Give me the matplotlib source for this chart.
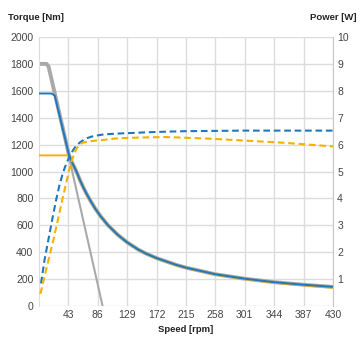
import matplotlib.pyplot as plt

# torque curves (speed rpm -> Nm)
grey_line_speed = [0, 11, 14, 93]
grey_line_torque = [1800, 1800, 1780, 0]

curve_speed = [44, 48, 52, 56, 60, 65, 70, 75, 82, 90, 101, 115, 129, 145,
               156, 172, 200, 215, 258, 301, 344, 387, 430]
curve_torque = [1120, 1070, 1030, 985, 935, 880, 830, 785, 726, 668, 600, 530,
                473, 420, 391, 356, 307, 285, 236, 203, 177, 158, 142]
orange_torque = [1120, 1070, 1030, 985, 935, 880, 830, 785, 726, 668, 600, 530,
                 473, 419, 390, 354, 305, 283, 233, 200, 173, 154, 136]

grey_start_speed = [0, 11, 14]
grey_start_torque = [1800, 1800, 1780]
blue_start_speed = [0, 18, 23]
blue_start_torque = [1580, 1580, 1565]
orange_start_speed = [0, 43]
orange_start_torque = [1120, 1120]

# power curves (speed rpm -> W)
blue_p_speed = [3, 8, 14, 20, 25, 30, 35, 40, 45, 50, 55, 62, 69, 80, 95, 115, 134,
                160, 186, 215, 260, 300, 350, 430]
blue_p_watt = [0.84, 1.7, 2.5, 3.3, 3.94, 4.5, 4.95, 5.3, 5.58, 5.8, 5.98, 6.12, 6.23,
               6.32, 6.38, 6.41, 6.43, 6.46, 6.48, 6.5, 6.51, 6.52, 6.52, 6.52]
orange_p_speed = [2, 10, 21, 28, 34, 40, 44, 48, 52, 55, 59, 65, 75, 93, 109, 130,
                  160, 186, 209, 250, 300, 357, 400, 430]
orange_p_watt = [0.45, 1.3, 2.45, 3.25, 3.94, 4.6, 5.05, 5.4, 5.7, 5.85, 6.0, 6.08,
                 6.13, 6.17, 6.22, 6.25, 6.27, 6.28, 6.26, 6.22, 6.15, 6.07, 5.99, 5.93]

x_ticks = [43, 86, 129, 172, 215, 258, 301, 344, 387, 430]
torque_ticks = list(range(0, 2001, 200))
power_ticks = list(range(1, 11))

BLUE = "#1f78be"
ORANGE = "#f7b000"
GREY = "#a9a9a9"
GRID = "#dcdcdc"
TXT = "#444444"

plt.rcParams["font.family"] = ["Liberation Sans", "DejaVu Sans"]

fig = plt.figure(figsize=(3.64, 3.40), dpi=100)
ax = fig.add_axes([39 / 364, 34 / 340, 294 / 364, 269 / 340])
ax2 = ax.twinx()

# grey limit curve + straight line
ax.plot(grey_start_speed + curve_speed, grey_start_torque + curve_torque,
        color=GREY, lw=2.8, solid_capstyle="butt", zorder=2)
ax.plot(grey_line_speed, grey_line_torque, color=GREY, lw=1.5, zorder=2)
ax.plot(orange_start_speed + curve_speed, orange_start_torque + orange_torque,
        color=ORANGE, lw=1.4, zorder=3)
ax.plot(blue_start_speed + curve_speed, blue_start_torque + curve_torque,
        color=BLUE, lw=1.4, zorder=4)

ax2.plot(blue_p_speed, blue_p_watt, color=BLUE, lw=1.5, linestyle=(0, (3.2, 1.8)))
ax2.plot(orange_p_speed, orange_p_watt, color=ORANGE, lw=1.5, linestyle=(0, (3.2, 1.8)))

ax.set_xlim(0, 430)
ax.set_ylim(0, 2000)
ax2.set_ylim(0, 10)
ax.set_xticks(x_ticks)
ax.set_yticks(torque_ticks)
ax2.set_yticks(power_ticks)
ax.grid(True, color=GRID, lw=1)
ax.set_axisbelow(True)

for a in (ax, ax2):
    a.tick_params(length=0, labelsize=7.5, labelcolor=TXT, pad=4)
    for s in a.spines.values():
        s.set_visible(False)
ax.spines["left"].set_visible(True)
ax.spines["left"].set_color(GRID)
ax2.spines["right"].set_visible(True)
ax2.spines["right"].set_color("#c8c8c8")
ax.tick_params(axis="x", pad=3)
ax2.tick_params(axis="y", pad=3)

fig.text(8 / 364, 1 - 17 / 340, "Torque [Nm]", fontsize=6.8, fontweight="bold",
         color="#222222", va="center", ha="left")
fig.text(357 / 364, 1 - 17 / 340, "Power [W]", fontsize=6.8, fontweight="bold",
         color="#222222", va="center", ha="right")
fig.text(186 / 364, 1 - 329 / 340, "Speed [rpm]", fontsize=6.8, fontweight="bold",
         color="#222222", va="center", ha="center")

fig.savefig("out.png", dpi=100)
